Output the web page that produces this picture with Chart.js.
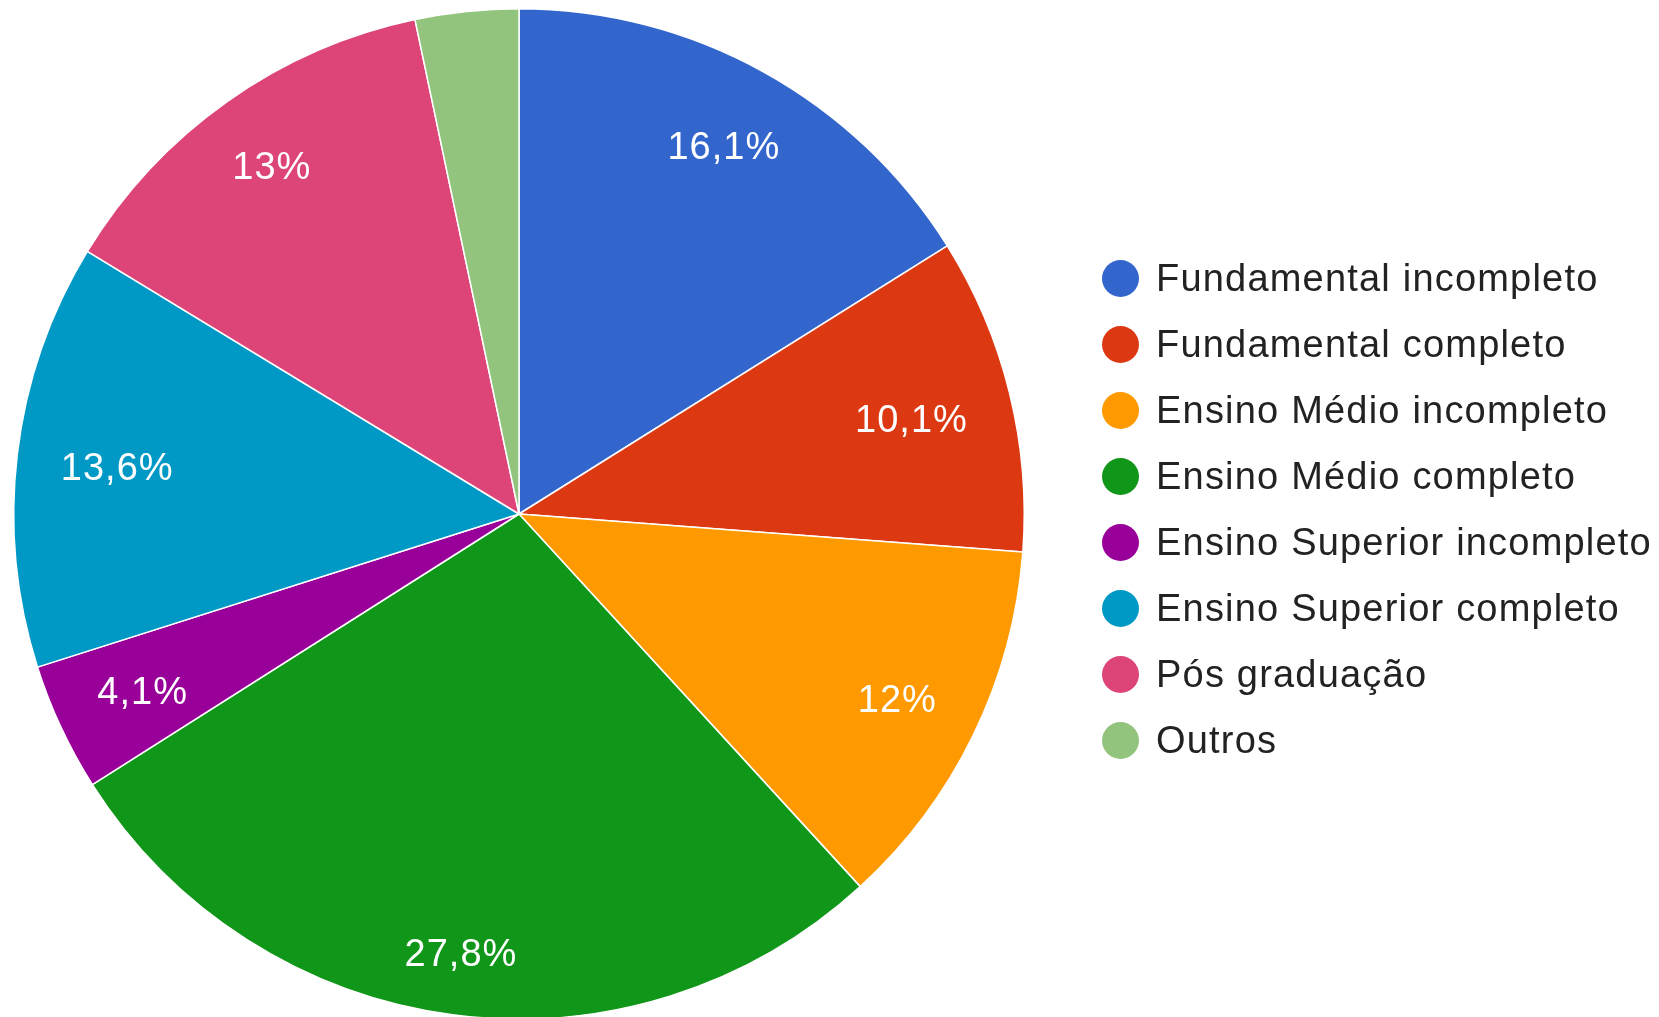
<!DOCTYPE html>
<html>
<head>
<meta charset="utf-8">
<script src="https://cdn.jsdelivr.net/npm/chart.js@4.4.1/dist/chart.umd.min.js"></script>
<style>
  html, body { margin: 0; padding: 0; background: #fff; overflow: hidden; }
  #wrap { position: relative; width: 1659px; height: 1017px; overflow: hidden; }
  #wrap canvas { position: absolute; left: 0; top: 0; }
  #legend { position: absolute; left: 1102px; top: 0; font-family: "Liberation Sans", Arial, sans-serif; font-size: 38px; letter-spacing: 1.2px; color: #222; }
  .row { position: absolute; left: 0; height: 40px; display: flex; align-items: center; white-space: nowrap; }
  .dot { width: 37px; height: 37px; border-radius: 50%; margin-right: 17px; flex: none; }
</style>
</head>
<body>
<div id="wrap">
  <canvas id="pie"></canvas>
  <div id="legend"></div>
</div>
<script>
const labels = [
  "Fundamental incompleto",
  "Fundamental completo",
  "Ensino Médio incompleto",
  "Ensino Médio completo",
  "Ensino Superior incompleto",
  "Ensino Superior completo",
  "Pós graduação",
  "Outros",
];
const values = [16.1, 10.1, 12, 27.8, 4.1, 13.6, 13, 3.3];
const colors = ["#3366cc", "#dc3912", "#ff9900", "#109618", "#990099", "#0099c6", "#dd4477", "#93c47d"];

// legend (HTML, built from the same arrays)
const legend = document.getElementById("legend");
labels.forEach((name, i) => {
  const row = document.createElement("div");
  row.className = "row";
  row.style.top = (278 - 20 + 66 * i) + "px";
  row.innerHTML = `<span class="dot" style="background:${colors[i]}"></span><span>${name}</span>`;
  legend.appendChild(row);
});

// percentage labels inside slices: the text box is pushed out along the
// mid-angle until its outer edge reaches ~91% of the radius
const sliceLabels = {
  id: "sliceLabels",
  afterDatasetsDraw(chart) {
    const { ctx } = chart;
    const meta = chart.getDatasetMeta(0);
    ctx.save();
    ctx.fillStyle = "#fff";
    ctx.font = '38px "Liberation Sans", Arial, sans-serif';
    ctx.letterSpacing = "1px";
    ctx.textAlign = "center";
    ctx.textBaseline = "middle";
    meta.data.forEach((arc, i) => {
      const v = values[i];
      if (v < 4) return;
      const p = arc.getProps(["x", "y", "startAngle", "endAngle", "outerRadius"], true);
      const mid = (p.startAngle + p.endAngle) / 2;
      const txt = String(v).replace(".", ",") + "%";
      const hw = ctx.measureText(txt).width / 2, hh = 14;
      const ux = Math.cos(mid), uy = Math.sin(mid);
      const r = p.outerRadius * 0.915 - (hw * Math.abs(ux) + hh * Math.abs(uy));
      ctx.fillText(txt, p.x + ux * r, p.y + uy * r + 4);
    });
    ctx.restore();
  },
};

const canvas = document.getElementById("pie");
canvas.width = 1659;
canvas.height = 1030;
canvas.style.width = "1659px";
canvas.style.height = "1030px";

new Chart(canvas, {
  type: "pie",
  data: {
    labels,
    datasets: [{
      data: values,
      backgroundColor: colors,
      borderColor: "#fff",
      borderWidth: 1.5,
    }],
  },
  options: {
    responsive: false,
    animation: false,
    layout: { padding: { left: 13, top: 8, right: 634, bottom: 10 } },
    plugins: {
      legend: { display: false },
      tooltip: { enabled: false },
    },
  },
  plugins: [sliceLabels],
});
</script>
</body>
</html>
